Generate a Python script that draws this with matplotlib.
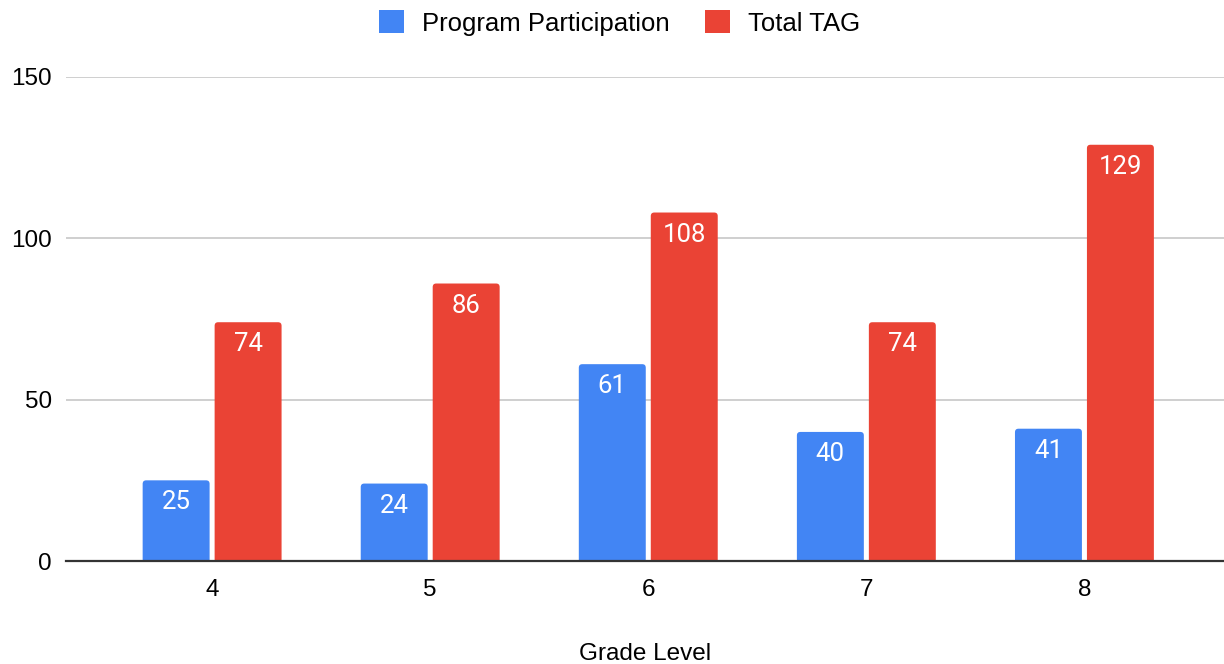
import matplotlib
matplotlib.use("Agg")
import matplotlib.pyplot as plt
import numpy as np
from matplotlib.patches import Patch, FancyBboxPatch

grades = ["4", "5", "6", "7", "8"]
participation = [25, 24, 61, 40, 41]
total_tag = [74, 86, 108, 74, 129]
series_names = ["Program Participation", "Total TAG"]
y_ticks = [0, 50, 100, 150]

BLUE = "#4285F4"
RED = "#EA4335"

plt.rcParams["font.family"] = ["Liberation Sans", "DejaVu Sans"]

W, H = 1224, 664
fig = plt.figure(figsize=(W / 100, H / 100), dpi=100)
ax_left, ax_top, ax_bottom = 66, 77, 561
ax = fig.add_axes([ax_left / W, 1 - ax_bottom / H, 1 - ax_left / W, (ax_bottom - ax_top) / H])

x = np.arange(len(grades))
w = 0.307
off = 0.165
xlim = (-0.67, 4.64)
ylim = (0, 150)
ax.set_xlim(*xlim)
ax.set_ylim(*ylim)

# data units per pixel, used to give the bars round top corners
x_per_px = (xlim[1] - xlim[0]) / (W - ax_left)
y_per_px = (ylim[1] - ylim[0]) / (ax_bottom - ax_top)
radius_px = 3.5


def rounded_bars(xs, vals, color):
    for xc, v in zip(xs, vals):
        base = -radius_px * 2 * y_per_px
        patch = FancyBboxPatch((xc - w / 2, base), w, v - base,
                               boxstyle=f"round,pad=0,rounding_size={radius_px * x_per_px}",
                               mutation_aspect=y_per_px / x_per_px,
                               facecolor=color, edgecolor="none", zorder=3)
        ax.add_patch(patch)
        ax.annotate(str(v), (xc, v), xytext=(0, -22), textcoords="offset pixels",
                    ha="center", va="center", color="white", fontsize=18.5,
                    family=["Roboto", "DejaVu Sans"], zorder=4)


rounded_bars(x - off, participation, BLUE)
rounded_bars(x + off, total_tag, RED)

ax.set_yticks(y_ticks)
ax.set_xticks(x)
ax.set_xticklabels(grades)
ax.tick_params(axis="both", length=0, labelsize=17.5, colors="#000000")
ax.tick_params(axis="y", pad=10)
ax.tick_params(axis="x", pad=13)
ax.grid(axis="y", color="#cccccc", linewidth=1.3, zorder=0)
ax.set_axisbelow(True)
for s in ("top", "right", "left"):
    ax.spines[s].set_visible(False)
ax.spines["bottom"].set_color("#333333")
ax.spines["bottom"].set_linewidth(1.6)
ax.spines["bottom"].set_zorder(5)

ax.set_xlabel("Grade Level", fontsize=17.5, labelpad=30)

handles = [Patch(facecolor=BLUE, edgecolor="none"), Patch(facecolor=RED, edgecolor="none")]
fig.legend(handles, series_names, loc="center", bbox_to_anchor=(619.5 / W, 1 - 23 / H),
           ncol=2, frameon=False, fontsize=18.5, handlelength=1.0, handleheight=1.0,
           columnspacing=1.35, handletextpad=0.7)

fig.savefig("out.png", dpi=100)
